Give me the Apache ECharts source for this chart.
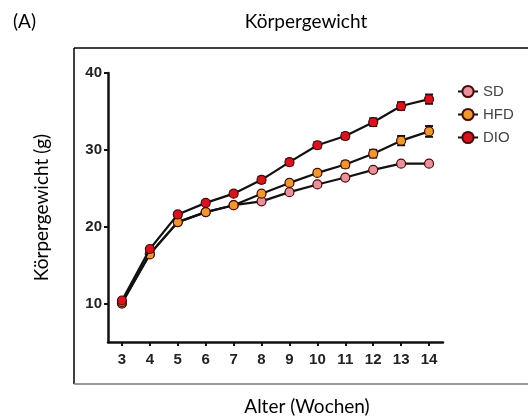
<!DOCTYPE html>
<html><head><meta charset="utf-8">
<script src="https://cdn.jsdelivr.net/npm/echarts@6/dist/echarts.min.js"></script>
<style>html,body{margin:0;padding:0;background:#fff}#c{width:528px;height:419px}</style>
</head><body><div id="c"></div>
<script>
const weeks = [3,4,5,6,7,8,9,10,11,12,13,14];
const sd  = [10.0,16.5,20.6,21.9,22.8,23.3,24.5,25.5,26.4,27.4,28.2,28.2];
const hfd = [10.2,16.4,20.6,21.9,22.8,24.3,25.7,27.0,28.1,29.5,31.2,32.4];
const dio = [10.4,17.1,21.6,23.1,24.3,26.1,28.4,30.6,31.8,33.6,35.7,36.6];
const sdErr  = [0.2,0.2,0.2,0.2,0.2,0.2,0.2,0.2,0.2,0.2,0.2,0.2];
const hfdErr = [0.2,0.2,0.2,0.2,0.2,0.2,0.3,0.3,0.4,0.5,0.6,0.7];
const dioErr = [0.3,0.3,0.3,0.3,0.3,0.4,0.4,0.4,0.4,0.5,0.5,0.6];
const seriesNames = ['SD','HFD','DIO'];
const colors = ['#e8939c','#ec9a2e','#d8141f'];
const yTicks = [10,20,30,40];

const chart = echarts.init(document.getElementById('c'));
const vals = [sd,hfd,dio], errs=[sdErr,hfdErr,dioErr];
const series = [];
vals.forEach((v,i)=>{
  series.push({
    type:'custom', name:seriesNames[i]+'_err', silent:true, z:2,
    data: weeks.map((w,j)=>[w, v[j]-errs[i][j], v[j]+errs[i][j]]),
    renderItem:(p,api)=>{
      const lo=api.coord([api.value(0),api.value(1)]);
      const hi=api.coord([api.value(0),api.value(2)]);
      return {type:'group',children:[
        {type:'line',shape:{x1:lo[0],y1:lo[1],x2:hi[0],y2:hi[1]},style:{stroke:'#111',lineWidth:2}},
        {type:'line',shape:{x1:lo[0]-4,y1:lo[1],x2:lo[0]+4,y2:lo[1]},style:{stroke:'#111',lineWidth:2}},
        {type:'line',shape:{x1:hi[0]-4,y1:hi[1],x2:hi[0]+4,y2:hi[1]},style:{stroke:'#111',lineWidth:2}}
      ]};
    }
  });
});
vals.forEach((v,i)=>{
  series.push({
    type:'line', name:seriesNames[i], z:3+i,
    data: weeks.map((w,j)=>[w,v[j]]),
    symbol:'circle', symbolSize:9,
    lineStyle:{color:'#111',width:2.2},
    itemStyle:{color:colors[i],borderColor:'#4a0808',borderWidth:1.2},
    emphasis:{disabled:true}, animation:false
  });
});
const titleFont = {fontFamily:'Lato',fontWeight:'normal',fontSize:19,color:'#000'};
const tickFont = {fontFamily:'Liberation Sans',fontWeight:'bold',fontSize:15,color:'#222'};
chart.setOption({
  animation:false,
  grid:{left:108,top:73,right:85,bottom:77,containLabel:false},
  title:[
    {text:'(A)',left:8,top:7,textStyle:titleFont},
    {text:'Körpergewicht',left:301,textAlign:'center',top:7,textStyle:titleFont},
    {text:'Alter (Wochen)',left:302,textAlign:'center',top:392,textStyle:titleFont}
  ],
  legend:{
    data:seriesNames, orient:'vertical', left:452, top:79, itemGap:8,
    itemWidth:20, itemHeight:14,
    textStyle:{fontFamily:'Liberation Sans',fontSize:15,color:'#444'}
  },
  xAxis:{
    type:'value', min:2.5, max:14.5, interval:1,
    axisLine:{show:true,onZero:false,lineStyle:{color:'#111',width:2.5}},
    axisTick:{show:true,length:4,lineStyle:{color:'#111',width:2},customValues:weeks},
    axisLabel:Object.assign({customValues:weeks,margin:10},tickFont),
    splitLine:{show:false}
  },
  yAxis:{
    type:'value', min:5, max:40,
    name:'Körpergewicht (g)', nameLocation:'middle', nameGap:57,
    nameTextStyle:{fontFamily:'Lato',fontSize:19,color:'#000'},
    axisLine:{show:true,lineStyle:{color:'#111',width:2.5}},
    axisTick:{show:true,length:4,lineStyle:{color:'#111',width:2},customValues:yTicks},
    axisLabel:Object.assign({customValues:yTicks,margin:6},tickFont),
    splitLine:{show:false}
  },
  graphic:[
    {type:'line',shape:{x1:74,y1:48,x2:528,y2:48},style:{stroke:'#000',lineWidth:1.5}},
    {type:'line',shape:{x1:74,y1:48,x2:74,y2:384},style:{stroke:'#000',lineWidth:1.5}},
    {type:'line',shape:{x1:74,y1:384,x2:528,y2:384},style:{stroke:'#777',lineWidth:1.5}}
  ],
  series:series
});
</script></body></html>
